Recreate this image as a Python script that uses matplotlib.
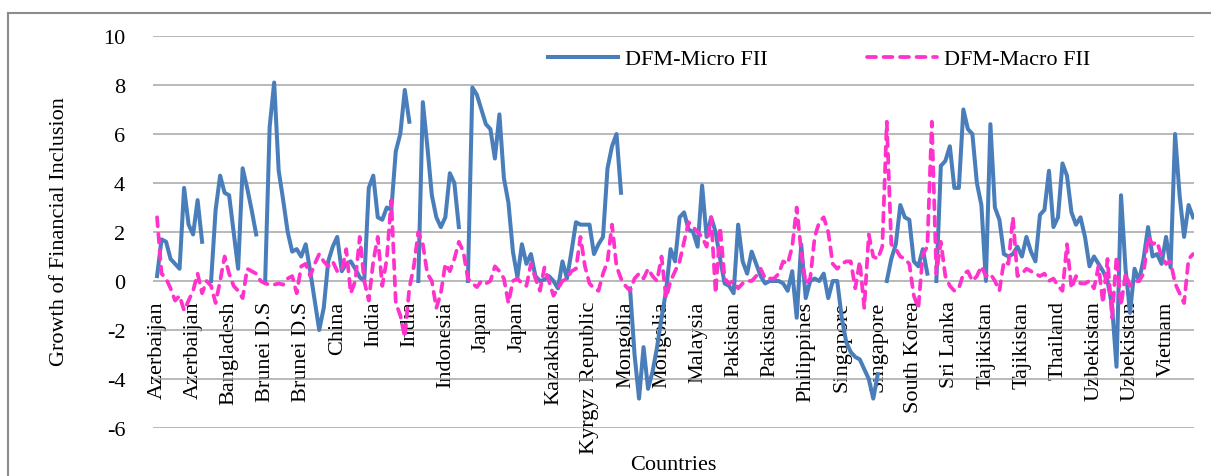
import numpy as np
import matplotlib
matplotlib.use("Agg")
import matplotlib.pyplot as plt
from matplotlib.lines import Line2D

nan = np.nan

countries = ["Azerbaijan", "Azerbaijan", "Bangladesh", "Brunei D.S", "Brunei D.S",
             "China", "India", "India", "Indonesia", "Japan", "Japan", "Kazakhstan",
             "Kyrgyz Republic", "Mongolia", "Mongolia", "Malaysia", "Pakistan",
             "Pakistan", "Philippines", "Singapore", "Singapore", "South Korea",
             "Sri Lanka", "Tajikistan", "Tajikistan", "Thailand", "Uzbekistan",
             "Uzbekistan", "Vietnam"]

# growth values (nan = break between country blocks)
micro_fii = [
    0.2, 1.7, 1.6, 0.9, 0.7, 0.5, 3.8, 2.3, 1.9, 3.3,
    1.6, nan, 0.0, 2.9, 4.3, 3.6, 3.5, 2.0, 0.5, 4.6,
    3.8, 2.9, 1.9, nan, 0.0, 6.3, 8.1, 4.5, 3.3, 2.0,
    1.2, 1.3, 1.0, 1.5, 0.4, -0.8, -2.0, -1.1, 0.8, 1.4,
    1.8, 0.4, 0.7, 0.8, 0.5, 0.15, 0.0, 3.8, 4.3, 2.6,
    2.5, 3.0, 2.9, 5.3, 6.0, 7.8, 6.5, nan, 0.0, 7.3,
    5.5, 3.5, 2.6, 2.2, 2.6, 4.4, 4.0, 2.2, nan, 0.0,
    7.9, 7.6, 7.0, 6.4, 6.2, 5.0, 6.8, 4.2, 3.2, 1.2,
    0.15, 1.5, 0.7, 1.1, 0.2, 0.0, 0.05, 0.2, 0.0, -0.3,
    0.8, 0.1, 1.2, 2.4, 2.3, 2.3, 2.3, 1.1, 1.5, 1.8,
    4.6, 5.5, 6.0, 3.6, nan, -0.3, -3.0, -4.8, -2.7, -4.4,
    -3.7, -2.7, -1.5, -0.4, 1.3, 0.8, 2.6, 2.8, 2.1, 2.0,
    1.4, 3.9, 1.8, 2.6, 2.0, 0.9, -0.1, -0.2, -0.5, 2.3,
    0.8, 0.3, 1.2, 0.7, 0.2, -0.1, 0.0, 0.0, 0.0, -0.1,
    -0.4, 0.4, -1.5, 1.5, -0.7, 0.0, 0.1, 0.0, 0.3, -0.7,
    0.0, 0.0, -1.5, -2.5, -2.9, -3.1, -3.2, -3.6, -4.0, -4.8,
    -3.8, nan, 0.0, 0.9, 1.5, 3.1, 2.6, 2.5, 0.8, 0.6,
    1.3, 0.3, nan, 0.0, 4.7, 4.9, 5.5, 3.8, 3.8, 7.0,
    6.2, 6.0, 4.0, 3.1, 0.0, 6.4, 3.0, 2.5, 1.1, 1.0,
    1.1, 1.4, 1.0, 1.8, 1.2, 0.8, 2.7, 2.9, 4.5, 2.2,
    2.6, 4.8, 4.3, 2.8, 2.3, 2.6, 1.8, 0.6, 1.0, 0.7,
    0.4, 0.0, -1.0, -3.5, 3.5, 0.5, -1.3, 0.5, 0.0, 0.9,
    2.2, 1.0, 1.1, 0.7, 1.8, 0.55, 6.0, 3.5, 1.8, 3.1,
    2.6]

macro_fii = [
    2.6, 0.3, 0.1, -0.3, -0.8, -0.6, -1.2, -0.8, -0.4, 0.3,
    -0.5, 0.0, -0.2, -0.9, 0.0, 1.0, 0.3, -0.2, -0.4, -0.7,
    0.5, 0.4, 0.3, 0.0, -0.1, -0.15, -0.15, -0.1, -0.15, 0.1,
    0.2, -0.5, 0.6, 0.7, 0.2, 0.7, 1.1, 0.8, 0.6, 0.8,
    0.4, 0.4, 1.3, -0.5, 0.0, 1.8, 0.0, -0.8, 0.8, 1.8,
    -0.2, 0.9, 3.3, -0.9, -1.4, -2.3, -0.3, 0.6, 2.0, 1.5,
    0.3, 0.0, -1.1, -0.5, 0.7, 0.4, 0.9, 1.6, 1.2, 0.1,
    -0.1, -0.25, 0.0, -0.1, 0.0, 0.6, 0.4, 0.1, -0.9, 0.0,
    0.1, -0.1, -0.2, 0.7, 0.1, -0.4, 0.55, 0.0, -0.6, -0.3,
    0.0, 0.1, 0.4, 0.5, 1.8, 0.6, -0.1, -0.3, -0.4, 0.3,
    0.8, 2.3, 0.6, 0.1, -0.2, -0.4, 0.1, 0.3, 0.1, 0.5,
    0.2, 0.0, 1.0, -0.7, 0.0, 0.4, 0.8, 1.6, 2.4, 2.2,
    2.0, 1.8, 1.4, 2.6, -0.5, 2.2, 0.1, -0.1, 0.0, -0.3,
    -0.1, 0.0, 0.0, 0.2, 0.5, 0.1, 0.1, 0.1, 0.3, 0.8,
    0.7, 1.4, 3.0, 1.2, -0.1, 0.1, 1.8, 2.4, 2.6, 2.0,
    0.7, 0.5, 0.7, 0.8, 0.8, -0.3, 0.8, -1.1, 1.9, 1.0,
    0.9, 1.4, 6.5, 1.5, 1.3, 1.0, 0.9, 0.7, -0.6, -1.1,
    1.1, 1.4, 6.5, 0.3, 1.6, 0.2, -0.2, -0.4, -0.3, 0.3,
    0.4, 0.0, 0.2, 0.6, 0.2, 0.3, 0.0, -0.4, 0.8, 0.7,
    2.6, 0.2, 0.3, 0.5, 0.4, 0.3, 0.2, 0.3, 0.0, 0.1,
    -0.2, -0.4, 1.5, -0.3, 0.2, -0.1, -0.1, 0.0, -0.3, 0.6,
    -0.9, 0.9, -1.5, 1.0, -1.0, 0.3, -0.2, 0.0, 0.0, 0.3,
    1.8, 1.5, 1.6, 1.0, 0.7, 0.8, -0.1, -0.5, -0.9, 0.9,
    1.1]

label_step = 8  # one country label every 8 observations

plt.rcParams['font.family'] = ['Liberation Serif', 'DejaVu Serif']
plt.rcParams['axes.unicode_minus'] = False

W, H = 1211, 477
fig = plt.figure(figsize=(W / 100, H / 100), dpi=100)
ax = fig.add_axes([153 / W, 1 - 429 / H, (1194 - 153) / W, (429 - 37) / H])

x = np.arange(len(micro_fii))
ax.plot(x, micro_fii, color='#4A7EBB', lw=2.9, solid_joinstyle='round',
        label='DFM-Micro FII')
ax.plot(x, macro_fii, color='#FF33CC', lw=2.7, dashes=(2.4, 2.0),
        dash_capstyle='round', label='DFM-Macro FII')

ax.set_xlim(-0.9, len(micro_fii) - 0.8)
ax.set_ylim(-6, 10)
ax.set_yticks(range(-6, 11, 2))
ax.grid(axis='y', color='#a6a6a6', lw=1.1)
ax.set_axisbelow(True)
for s in ['top', 'right', 'left']:
    ax.spines[s].set_visible(False)
ax.spines['bottom'].set_position(('data', 0))
ax.spines['bottom'].set_visible(False)

ax.set_xticks(np.arange(len(countries)) * label_step)
ax.set_xticklabels(countries, rotation=90)
ax.tick_params(axis='x', length=0, pad=14, labelsize=16)
ax.tick_params(axis='y', length=0, pad=20, labelsize=16)

ax.legend(ncol=2, loc='center left',
          bbox_to_anchor=((548 - 153) / 1041, (429 - 60) / 392),
          frameon=False, fontsize=16, handlelength=3.15, handletextpad=0.3,
          columnspacing=4.5, borderpad=0, borderaxespad=0)

fig.text(60 / W, 1 - 232 / H, 'Growth of Financial Inclusion', rotation=90,
         ha='center', va='center', fontsize=16)
fig.text(673 / W, 1 - 470 / H, 'Countries', ha='center', va='baseline',
         fontsize=16)

# outer chart border (left and top edges visible)
fig.add_artist(Line2D([8 / W, 8 / W], [0, 1 - 14 / H], transform=fig.transFigure,
                      color='#8c8c8c', lw=1.5))
fig.add_artist(Line2D([8 / W, 1], [1 - 14 / H, 1 - 14 / H], transform=fig.transFigure,
                      color='#8c8c8c', lw=1.5))

fig.savefig('out.png', dpi=100)
